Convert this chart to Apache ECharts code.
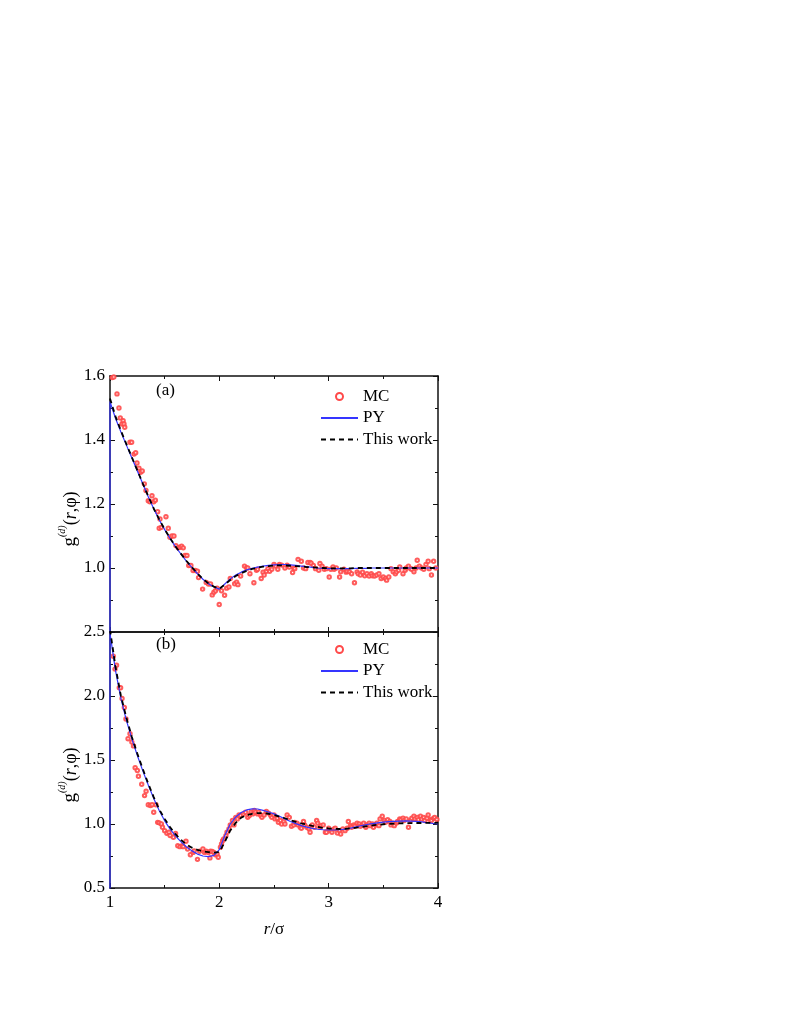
<!DOCTYPE html>
<html>
<head>
<meta charset="utf-8">
<script src="https://cdn.jsdelivr.net/npm/echarts@6/dist/echarts.min.js"></script>
<style>
  html, body { margin: 0; padding: 0; background: #fff; }
  #chart { width: 789px; height: 1021px; }
</style>
</head>
<body>
<div id="chart"></div>
<script>
// r grid of the two theory curves
const rLine = [1.00, 1.05, 1.10, 1.15, 1.20, 1.25, 1.30, 1.35, 1.40, 1.45,
  1.50, 1.55, 1.60, 1.65, 1.70, 1.75, 1.80, 1.85, 1.90, 1.95,
  2.00, 2.05, 2.10, 2.15, 2.20, 2.25, 2.30, 2.35, 2.40, 2.45,
  2.50, 2.55, 2.60, 2.65, 2.70, 2.75, 2.80, 2.85, 2.90, 2.95,
  3.00, 3.05, 3.10, 3.15, 3.20, 3.25, 3.30, 3.35, 3.40, 3.45,
  3.50, 3.55, 3.60, 3.65, 3.70, 3.75, 3.80, 3.85, 3.90, 3.95, 4.00];

// PY has the contact wall at r = 1 (g = 0 inside the core)
const rPY = [1.00].concat(rLine);

// panel (a)
const pyA = [0,
  1.52, 1.468, 1.425, 1.384, 1.344, 1.303, 1.263, 1.223, 1.185, 1.151,
  1.12, 1.092, 1.066, 1.043, 1.021, 1.001, 0.982, 0.965, 0.951, 0.941,
  0.934, 0.95, 0.966, 0.978, 0.987, 0.994, 0.999, 1.003, 1.006, 1.008,
  1.010, 1.011, 1.011, 1.010, 1.008, 1.006, 1.004, 1.002, 1.000, 0.999,
  0.998, 0.998, 0.998, 0.998, 0.998, 0.999, 0.999, 0.999, 1.0, 1.0,
  1.0, 1.0, 1.0, 1.0, 1.0, 1.0, 1.0, 1.0, 1.0, 1.0, 1.0];
const thisA = [
  1.53, 1.474, 1.429, 1.387, 1.346, 1.305, 1.264, 1.224, 1.186, 1.152,
  1.121, 1.093, 1.067, 1.044, 1.022, 1.002, 0.983, 0.966, 0.952, 0.942,
  0.935, 0.948, 0.963, 0.975, 0.984, 0.991, 0.997, 1.001, 1.004, 1.006,
  1.008, 1.008, 1.008, 1.007, 1.006, 1.005, 1.003, 1.002, 1.001, 1.0,
  0.999, 0.999, 0.999, 0.999, 0.999, 1.0, 1.0, 1.0, 1.0, 1.0,
  1.0, 1.0, 1.0, 1.0, 1.0, 1.0, 1.0, 1.0, 1.0, 1.0, 1.0];
const mcA_r = [1.02, 1.035, 1.064, 1.082, 1.094, 1.11, 1.12, 1.128, 1.135, 1.183,
  1.198, 1.22, 1.235, 1.247, 1.265, 1.28, 1.295, 1.314, 1.329, 1.35,
  1.365, 1.384, 1.40, 1.415, 1.436, 1.45, 1.457, 1.47, 1.512, 1.533,
  1.548, 1.566, 1.585, 1.603, 1.625, 1.64, 1.655, 1.67, 1.686, 1.704,
  1.72, 1.74, 1.76, 1.78, 1.80, 1.81, 1.847, 1.88, 1.90, 1.92,
  1.935, 1.95, 1.965, 1.98, 1.999, 2.02, 2.048, 2.067, 2.088, 2.10,
  2.14, 2.158, 2.17, 2.195, 2.23, 2.25, 2.26, 2.28, 2.316, 2.34,
  2.35, 2.383, 2.40, 2.41, 2.43, 2.445, 2.46, 2.48, 2.50, 2.515,
  2.535, 2.55, 2.57, 2.60, 2.62, 2.64, 2.67, 2.68, 2.69, 2.72,
  2.75, 2.77, 2.79, 2.81, 2.83, 2.84, 2.86, 2.88, 2.91, 2.92,
  2.94, 2.96, 2.98, 3.005, 3.02, 3.04, 3.05, 3.07, 3.10, 3.11,
  3.14, 3.16, 3.17, 3.19, 3.21, 3.236, 3.26, 3.27, 3.29, 3.31,
  3.33, 3.35, 3.37, 3.39, 3.40, 3.42, 3.44, 3.46, 3.48, 3.50,
  3.52, 3.53, 3.55, 3.57, 3.59, 3.61, 3.62, 3.64, 3.65, 3.68,
  3.70, 3.71, 3.73, 3.75, 3.76, 3.78, 3.80, 3.81, 3.83, 3.85,
  3.87, 3.89, 3.91, 3.92, 3.94, 3.96, 3.98];
const mcA_g = [1.595, 1.597, 1.544, 1.50, 1.469, 1.45, 1.46, 1.45, 1.44, 1.393,
  1.393, 1.356, 1.36, 1.328, 1.312, 1.299, 1.303, 1.263, 1.242, 1.21,
  1.207, 1.226, 1.207, 1.212, 1.176, 1.124, 1.153, 1.127, 1.16, 1.124,
  1.096, 1.10, 1.10, 1.07, 1.063, 1.065, 1.068, 1.063, 1.039, 1.039,
  1.008, 1.008, 0.992, 0.992, 0.99, 0.97, 0.934, 0.955, 0.95, 0.95,
  0.916, 0.924, 0.929, 0.937, 0.886, 0.929, 0.915, 0.937, 0.941, 0.967,
  0.951, 0.956, 0.948, 0.975, 1.006, 1.0, 1.0, 0.982, 0.954, 0.993,
  0.996, 0.967, 0.987, 0.978, 0.99, 0.998, 0.99, 0.996, 1.011, 1.006,
  0.996, 1.011, 1.009, 1.0, 1.009, 1.003, 0.986, 1.0, 0.998, 1.027,
  1.021, 1.0, 0.998, 1.017, 1.017, 1.015, 1.008, 0.998, 0.993, 1.014,
  1.006, 0.996, 0.998, 0.972, 0.996, 1.003, 0.996, 1.0, 0.972, 0.988,
  0.996, 0.987, 0.99, 0.988, 0.982, 0.954, 0.988, 0.982, 0.978, 0.987,
  0.976, 0.982, 0.975, 0.982, 0.976, 0.975, 0.978, 0.982, 0.967, 0.972,
  0.967, 0.962, 0.972, 0.998, 0.988, 0.982, 0.988, 0.993, 1.003, 0.982,
  0.993, 1.0, 1.006, 0.998, 0.996, 0.988, 1.0, 1.024, 1.006, 1.0,
  0.996, 1.011, 1.021, 0.998, 0.978, 1.021, 1.0];

// panel (b)
const pyB = [0,
  2.49, 2.20, 1.98, 1.81, 1.665, 1.535, 1.415, 1.305, 1.20, 1.105,
  1.025, 0.96, 0.905, 0.86, 0.82, 0.79, 0.765, 0.75, 0.745, 0.755,
  0.80, 0.91, 1.0, 1.055, 1.09, 1.11, 1.118, 1.117, 1.107, 1.094,
  1.079, 1.06, 1.04, 1.02, 1.003, 0.987, 0.975, 0.966, 0.959, 0.955,
  0.953, 0.953, 0.955, 0.96, 0.968, 0.978, 0.988, 0.996, 1.003, 1.009,
  1.014, 1.018, 1.021, 1.023, 1.024, 1.023, 1.02, 1.016, 1.011, 1.005, 1.0];
const thisB = [
  2.52, 2.23, 2.0, 1.83, 1.68, 1.55, 1.43, 1.315, 1.21, 1.115,
  1.04, 0.975, 0.92, 0.875, 0.84, 0.815, 0.798, 0.787, 0.78, 0.777,
  0.78, 0.86, 0.95, 1.01, 1.05, 1.07, 1.08, 1.085, 1.085, 1.08,
  1.07, 1.058, 1.045, 1.03, 1.017, 1.005, 0.995, 0.985, 0.977, 0.97,
  0.965, 0.962, 0.961, 0.962, 0.966, 0.971, 0.977, 0.983, 0.989, 0.994,
  0.998, 1.001, 1.003, 1.005, 1.006, 1.007, 1.008, 1.008, 1.009, 1.009, 1.01];
const mcB_r = [1.03, 1.046, 1.06, 1.085, 1.097, 1.11, 1.131, 1.146, 1.165, 1.183,
  1.20, 1.215, 1.23, 1.25, 1.26, 1.29, 1.316, 1.33, 1.35, 1.37,
  1.385, 1.40, 1.42, 1.436, 1.45, 1.47, 1.48, 1.50, 1.52, 1.54,
  1.55, 1.58, 1.60, 1.62, 1.64, 1.66, 1.67, 1.695, 1.71, 1.735,
  1.76, 1.77, 1.80, 1.82, 1.85, 1.865, 1.88, 1.90, 1.914, 1.92,
  1.935, 1.95, 1.965, 1.98, 1.99, 2.01, 2.02, 2.03, 2.04, 2.06,
  2.07, 2.088, 2.10, 2.12, 2.134, 2.15, 2.165, 2.18, 2.195, 2.22,
  2.24, 2.26, 2.275, 2.29, 2.305, 2.32, 2.33, 2.35, 2.36, 2.38,
  2.39, 2.41, 2.43, 2.45, 2.47, 2.48, 2.50, 2.51, 2.53, 2.54,
  2.56, 2.57, 2.59, 2.60, 2.62, 2.64, 2.66, 2.68, 2.69, 2.71,
  2.72, 2.74, 2.75, 2.77, 2.78, 2.80, 2.82, 2.83, 2.85, 2.87,
  2.89, 2.90, 2.92, 2.93, 2.95, 2.97, 2.98, 3.00, 3.02, 3.03,
  3.05, 3.06, 3.08, 3.10, 3.11, 3.13, 3.15, 3.17, 3.18, 3.20,
  3.21, 3.23, 3.24, 3.26, 3.28, 3.29, 3.31, 3.32, 3.34, 3.35,
  3.37, 3.38, 3.40, 3.41, 3.43, 3.44, 3.46, 3.47, 3.49, 3.51,
  3.52, 3.54, 3.56, 3.57, 3.59, 3.60, 3.62, 3.63, 3.65, 3.66,
  3.68, 3.69, 3.71, 3.73, 3.75, 3.76, 3.78, 3.79, 3.81, 3.82,
  3.84, 3.85, 3.87, 3.88, 3.90, 3.91, 3.93, 3.94, 3.96, 3.97, 3.99];
const mcB_g = [2.31, 2.21, 2.24, 2.065, 2.065, 1.98, 1.91, 1.82, 1.666, 1.705,
  1.64, 1.61, 1.44, 1.418, 1.373, 1.31, 1.222, 1.256, 1.15, 1.144,
  1.15, 1.092, 1.15, 1.013, 1.009, 1.0, 0.975, 0.948, 0.927, 0.935,
  0.91, 0.896, 0.927, 0.83, 0.823, 0.83, 0.823, 0.865, 0.805, 0.76,
  0.778, 0.79, 0.724, 0.787, 0.805, 0.778, 0.787, 0.778, 0.735, 0.787,
  0.785, 0.778, 0.76, 0.766, 0.74, 0.818, 0.844, 0.87, 0.883, 0.909,
  0.935, 0.962, 0.993, 1.027, 0.993, 1.052, 1.04, 1.071, 1.066, 1.079,
  1.092, 1.052, 1.066, 1.092, 1.079, 1.105, 1.092, 1.079, 1.092, 1.066,
  1.052, 1.071, 1.098, 1.085, 1.066, 1.052, 1.071, 1.04, 1.045, 1.013,
  1.027, 1.0, 1.02, 1.0, 1.071, 1.052, 0.982, 0.993, 1.013, 1.007,
  0.993, 0.975, 0.967, 1.02, 0.993, 0.975, 0.962, 0.935, 0.993, 0.975,
  1.027, 1.007, 0.975, 0.987, 0.993, 0.935, 0.935, 0.967, 0.948, 0.935,
  0.962, 0.967, 0.93, 0.948, 0.922, 0.962, 0.948, 0.967, 1.02, 0.987,
  0.975, 0.993, 0.982, 1.007, 1.0, 0.982, 0.993, 1.007, 0.975, 0.993,
  1.007, 0.987, 1.0, 0.975, 0.993, 1.007, 0.987, 1.04, 1.06, 1.027,
  1.013, 1.033, 1.02, 0.993, 1.007, 0.987, 1.007, 1.02, 1.04, 1.033,
  1.045, 1.027, 1.04, 0.975, 1.027, 1.045, 1.06, 1.04, 1.052, 1.033,
  1.06, 1.04, 1.052, 1.027, 1.045, 1.071, 1.033, 1.027, 1.045, 1.052, 1.035];

const FONT = '"Liberation Serif", "Times New Roman", serif';
const pairs = (xs, ys) => xs.map((x, i) => [x, ys[i]]);

const chart = echarts.init(document.getElementById('chart'));

const frameLine = { show: true, onZero: false, lineStyle: { color: '#111', width: 1.5 } };
const tick = { show: true, inside: true, length: 5, lineStyle: { color: '#111', width: 1 } };
const minor = { show: true, splitNumber: 2, length: 3, lineStyle: { color: '#111', width: 1 } };
const labelStyle = { color: '#000', fontFamily: FONT, fontSize: 17 };

function xAxis(gridIndex, position, withLabels) {
  return {
    type: 'value', gridIndex, position, min: 1, max: 4, interval: 1,
    axisLine: frameLine, axisTick: tick, minorTick: minor, splitLine: { show: false },
    axisLabel: Object.assign({ show: withLabels, margin: 6 }, labelStyle),
    name: withLabels ? '{i|r}/σ' : '',
    nameLocation: 'middle', nameGap: 33,
    nameTextStyle: {
      color: '#000', fontFamily: FONT, fontSize: 17,
      rich: { i: { fontFamily: FONT, fontSize: 17, fontStyle: 'italic', color: '#000' } }
    }
  };
}

const yName = '{g|g}{s|(d)}{p|(}{i|r}{p|,φ)}';
const yRich = {
  g: { fontFamily: FONT, fontSize: 19, color: '#000', lineHeight: 22, verticalAlign: 'bottom' },
  s: { fontFamily: FONT, fontSize: 10, fontStyle: 'italic', color: '#000', lineHeight: 22, verticalAlign: 'top' },
  p: { fontFamily: FONT, fontSize: 18, color: '#000', lineHeight: 22, verticalAlign: 'bottom' },
  i: { fontFamily: FONT, fontSize: 18, fontStyle: 'italic', color: '#000', lineHeight: 22, verticalAlign: 'bottom' }
};

function yAxis(gridIndex, position, min, max, interval, withLabels, hideMin) {
  return {
    type: 'value', gridIndex, position, min, max, interval,
    axisLine: frameLine, axisTick: tick, minorTick: minor, splitLine: { show: false },
    axisLabel: Object.assign({
      show: withLabels, margin: 5, showMinLabel: !hideMin,
      formatter: v => v.toFixed(1)
    }, labelStyle),
    name: withLabels ? yName : '',
    nameLocation: 'middle', nameGap: 29,
    nameTextStyle: { rich: yRich, padding: [0, 30, 0, 0] }
  };
}

const noDot = { opacity: 0 };
function legend(top) {
  return {
    orient: 'vertical', left: 320, top, padding: 0,
    itemWidth: 37, itemHeight: 7, itemGap: 4.5,
    textStyle: { color: '#000', fontFamily: FONT, fontSize: 17 },
    data: [
      { name: 'MC', itemStyle: { borderWidth: 1.6, borderColor: '#ff1a1a', opacity: 1 } },
      { name: 'PY', itemStyle: noDot },
      { name: 'This work', itemStyle: noDot }
    ]
  };
}

function mcSeries(xi, yi, xs, ys) {
  return {
    name: 'MC', type: 'scatter', xAxisIndex: xi, yAxisIndex: yi,
    symbol: 'emptyCircle', symbolSize: 3.4,
    itemStyle: { color: '#ff4a4a', borderWidth: 0.8, opacity: 0.9 },
    data: pairs(xs, ys), z: 1
  };
}
function pySeries(xi, yi, ys) {
  return {
    name: 'PY', type: 'line', xAxisIndex: xi, yAxisIndex: yi,
    showSymbol: false, symbol: 'none', clip: true,
    lineStyle: { color: '#3535ff', width: 1.2 }, itemStyle: { color: '#3535ff' },
    data: pairs(rPY, ys), z: 2
  };
}
function thisSeries(xi, yi, ys) {
  return {
    name: 'This work', type: 'line', xAxisIndex: xi, yAxisIndex: yi,
    showSymbol: false, symbol: 'none', clip: true,
    lineStyle: { color: '#000', width: 1.8, type: [5, 4] }, itemStyle: { color: '#000' },
    data: pairs(rLine, ys), z: 3
  };
}

chart.setOption({
  animation: false,
  backgroundColor: '#fff',
  grid: [
    { left: 110, right: 351, top: 376, height: 256 },
    { left: 110, right: 351, top: 632, height: 256 }
  ],
  xAxis: [
    xAxis(0, 'bottom', false),
    xAxis(0, 'top', false),
    xAxis(1, 'bottom', true),
    xAxis(1, 'top', false)
  ],
  yAxis: [
    yAxis(0, 'left', 0.8, 1.6, 0.2, true, true),
    yAxis(0, 'right', 0.8, 1.6, 0.2, false, false),
    yAxis(1, 'left', 0.5, 2.5, 0.5, true, false),
    yAxis(1, 'right', 0.5, 2.5, 0.5, false, false)
  ],
  legend: [legend(388), legend(641)],
  graphic: [
    { type: 'text', left: 156, top: 382, style: { text: '(a)', font: '17px ' + FONT, fill: '#000' } },
    { type: 'text', left: 156, top: 636, style: { text: '(b)', font: '17px ' + FONT, fill: '#000' } }
  ],
  series: [
    mcSeries(0, 0, mcA_r, mcA_g),
    pySeries(0, 0, pyA),
    thisSeries(0, 0, thisA),
    mcSeries(2, 2, mcB_r, mcB_g),
    pySeries(2, 2, pyB),
    thisSeries(2, 2, thisB)
  ]
});
</script>
</body>
</html>
